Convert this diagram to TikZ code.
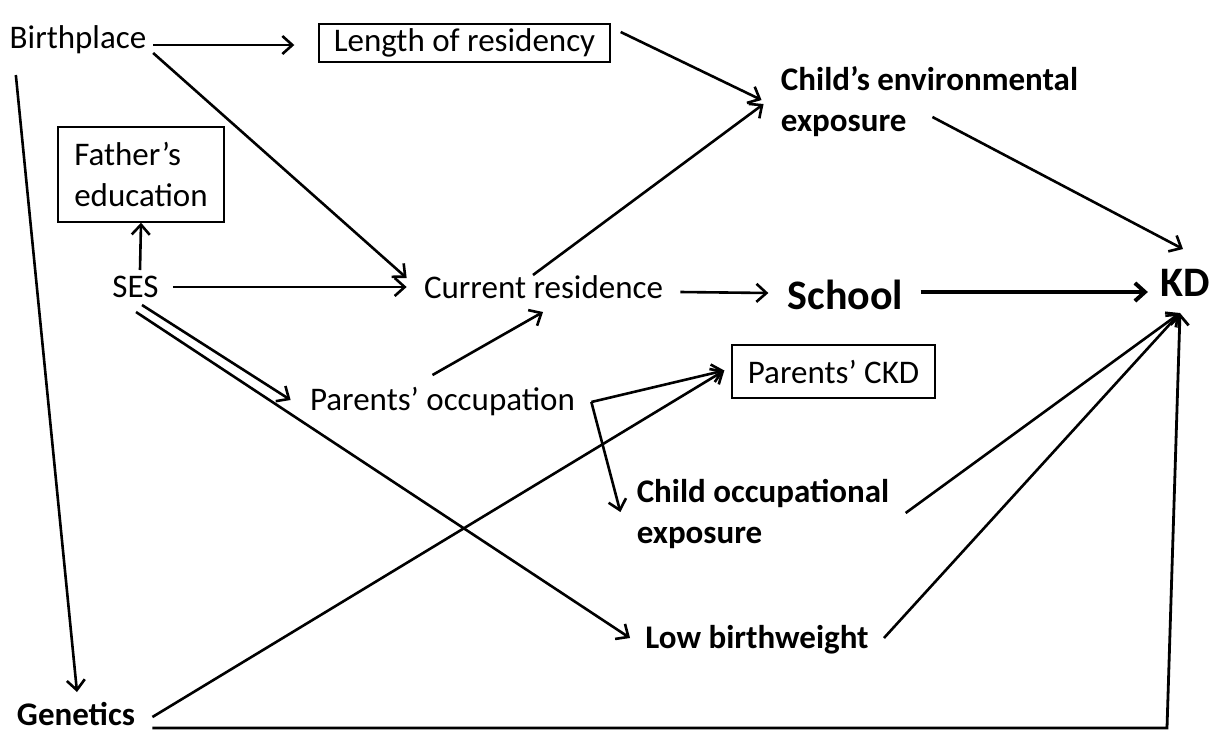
\documentclass[tikz,border=0pt]{standalone}
\usepackage{fontspec}
\setmainfont{Carlito}
\usetikzlibrary{arrows.meta}
\tikzset{>={Straight Barb[length=5pt,width=9pt]}}
\tikzset{
  txt/.style={inner sep=0pt, font=\fontsize{16.5}{20.5}\selectfont},
  boldtxt/.style={inner sep=0pt, font=\fontsize{16.5}{20.5}\selectfont\bfseries},
  bigtxt/.style={inner sep=0pt, font=\fontsize{21}{25}\selectfont\bfseries},
  boxed/.style={txt, draw, line width=0.7pt},
  link/.style={->, line width=1.3pt},
}

\begin{document}
\begin{tikzpicture}[x=0.5pt, y=-0.5pt]
  \useasboundingbox (0,0) rectangle (1211,735);

  % variables
  \node[txt] (birth) at (78,40) {Birthplace};
  \node[boxed, minimum width=145.5pt, minimum height=19pt] (len) at (464.5,43) {Length of residency};
  \node[boldtxt, align=left] (cenv) at (929.5,102) {Child’s environmental\\exposure};
  \node[boxed, align=left, minimum width=83pt, minimum height=47.5pt] (father) at (141,174.5) {Father’s\\education};
  \node[txt] (ses) at (135.5,287) {SES};
  \node[txt] (cur) at (543.5,287) {Current residence};
  \node[bigtxt] (school) at (845.5,295) {School};
  \node[bigtxt] (kd) at (1185,283) {KD};
  \node[txt] (pocc) at (442.5,402) {Parents’ occupation};
  \node[boxed, minimum width=101.5pt, minimum height=26.5pt] (pckd) at (833.5,371.5) {Parents’ CKD};
  \node[boldtxt, align=left] (cocc) at (763,514) {Child occupational\\exposure};
  \node[boldtxt] (lbw) at (757,640) {Low birthweight};
  \node[boldtxt] (gen) at (76,714) {Genetics};

  % arrows
  \draw[link] ([shift={(6.5,5)}]birth.east) -- ([shift={(-24,2)}]len.west);
  \draw[link] ([shift={(6.5,13)}]birth.east) -- ([shift={(-17,-9)}]cur.west);
  \draw[link] ([shift={(6.5,35)}]birth.west) -- ([shift={(1,-22)}]gen.center);
  \draw[link] ([shift={(10,-11)}]len.east) -- ([shift={(-19,-2)}]cenv.west);
  \draw[link] ([shift={(-10.5,-12)}]cur.center) -- ([shift={(-17,2)}]cenv.west);
  \draw[link] ([shift={(4.5,-17)}]ses.center) -- (father.south);
  \draw[link] ([shift={(14,0)}]ses.east) -- ([shift={(-17,0)}]cur.west);
  \draw[link] ([shift={(6.5,18)}]ses.center) -- ([shift={(-19,-2)}]pocc.west);
  \draw[link] ([shift={(0.5,25)}]ses.center) -- ([shift={(-15,-2)}]lbw.west);
  \draw[link] ([shift={(-10,-27)}]pocc.center) -- ([shift={(-0.5,25)}]cur.center);
  \draw[link] ([shift={(17,5)}]cur.east) -- ([shift={(-19,-2)}]school.west);
  \draw[link, line width=2pt] ([shift={(17,-3)}]school.east) -- ([shift={(-12,9)}]kd.west);
  \coordinate (fork) at ([shift={(16,0)}]pocc.east);
  \draw[link] (fork) -- ([shift={(-7,-1)}]pckd.west);
  \draw[link] (fork) -- ([shift={(-16,-2)}]cocc.west);
  \draw[link] ([shift={(17,3)}]gen.east) -- ([shift={(-7,-1)}]pckd.west);
  \draw[link, line width=1.4pt] ([shift={(17,14)}]gen.east) -- ([shift={(-18,445)}]kd.center) -- ([shift={(-5,30)}]kd.center);
  \draw[link] ([shift={(15,-2)}]lbw.east) -- ([shift={(-5,30)}]kd.center);
  \draw[link] ([shift={(16,-1)}]cocc.east) -- ([shift={(-5,30)}]kd.center);
  \draw[link] ([shift={(-146,15)}]cenv.east) -- ([shift={(-2,-34)}]kd.center);
\end{tikzpicture}
\end{document}
